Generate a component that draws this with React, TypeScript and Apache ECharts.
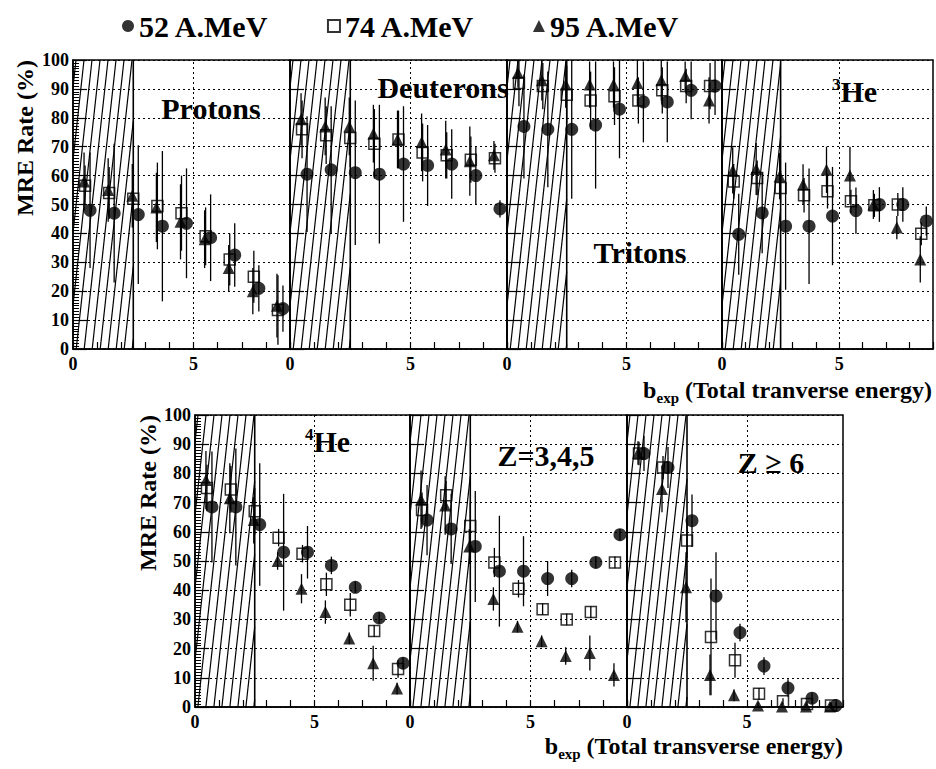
import React, { useEffect, useRef } from 'react';
import * as echarts from 'echarts';

// ---- data ----
const BINS = [0.5, 1.5, 2.5, 3.5, 4.5, 5.5, 6.5, 7.5, 8.5];
const HATCH = [0, 2.5];
const SERIES_NAMES = ['52 A.MeV', '74 A.MeV', '95 A.MeV'];
const PANEL_LABELS = ['Protons', 'Deuterons', 'Tritons', '3He', '4He', 'Z=3,4,5', 'Z ≥ 6'];

const P52 = [48, 47, 46.5, 42.5, 43.5, 38.5, 32.5, 21, 14];
const P52E = [20, 24, 24, 26, 19, 15, 11, 8, 8];
const P74 = [56.5, 54, 52, 49.5, 47, 39, 31, 25, 13.5];
const P74E = [7, 9, 10, 15, 13, 10, 9, 9, 12];
const P95 = [58, 55, 53, 49, 44, 38, 28, 20, 15];
const P95E = [10, 11, 11, 12, 13, 10, 8, 8, 11];

const D52 = [60.5, 62, 61, 60.5, 64, 63.5, 64, 60, 48.5];
const D52E = [20, 22, 25, 24, 20, 14, 12, 10, 3];
const D74 = [76, 74, 73, 71, 72.5, 68, 67, 65.5, 66];
const D74E = [10, 10, 10, 12, 10, 10, 8, 8, 5];
const D95 = [79.5, 77, 77, 74.5, 72.5, 71.5, 69, 65, 67];
const D95E = [9, 10, 10, 10, 10, 10, 10, 12, 5];

const T52 = [77, 76, 76, 77.5, 83, 85.5, 85.5, 89.5, 91];
const T52E = [18, 20, 24, 22, 17, 14, 14, 10, 10];
const T74 = [92, 91, 88, 86, 87.5, 86, 89.5, 91, 91];
const T74E = [8, 8, 10, 10, 10, 8, 8, 6, 8];
const T95 = [95.5, 93, 91.5, 91.5, 91.5, 92, 93, 94.5, 86];
const T95E = [5, 7, 8, 8, 8, 8, 7, 5, 8];

const H3_52 = [39.7, 47.1, 42.5, 42.5, 46, 47.9, 50, 50, 44.3];
const H3_52E = [14, 14, 22, 20, 17, 8, 6, 6, 5];
const H3_74 = [58, 59.2, 55.7, 53.2, 54.6, 51.1, 49.7, 50, 39.9];
const H3_74E = [6, 6, 6, 6, 6, 4, 4, 4, 4];
const H3_95 = [61.8, 62.3, 59.8, 56.9, 62, 60, 50, 42, 31];
const H3_95E = [8, 9, 8, 7, 8, 10, 5, 4, 8];

const H4_52 = [68.5, 68.5, 62.5, 53, 53, 48.5, 41, 30.5, 15];
const H4_52E = [19, 20, 21, 20, 9, 3, 2, 2, 2];
const H4_74 = [75, 74.5, 67, 58, 52.5, 42, 35, 26, 13];
const H4_74E = [8, 8, 8, 3, 3, 4, 4, 2, 3];
const H4_95 = [77.7, 71.5, 64, 50, 40.5, 32.5, 23.5, 15, 6.3];
const H4_95E = [10, 12, 8, 3, 5, 4, 2, 6, 2];

const Z3_52 = [64, 61, 55, 46.5, 46.5, 44, 44, 49.5, 59];
const Z3_52E = [12, 12, 19, 19, 12, 6, 3, 2, 2];
const Z3_74 = [67.5, 72.5, 62, 49.5, 40.5, 33.5, 30, 32.5, 49.5];
const Z3_74E = [6, 5, 8, 5, 3, 2, 2, 2, 2];
const Z3_95 = [71, 69, 55, 37, 27.5, 22.5, 17.5, 18.5, 11];
const Z3_95E = [10, 10, 6, 4, 2, 2, 3, 6, 4];

const Z6_52 = [86.8, 82, 63.8, 38, 25.5, 14, 6.5, 3, 0.5];
const Z6_52E = [6, 7, 9, 15, 3, 3, 3, 2, 1];
const Z6_74 = [86.8, 82, 57, 24, 16, 4.5, 2, 1, 0.5];
const Z6_74E = [4, 4, 6, 20, 6, 2, 1, 1, 1];
const Z6_95 = [87, 74.7, 41, 11, 4, 0.5, 0.2, 0.2, 0.2];
const Z6_95E = [4, 8, 12, 7, 2, 1, 1, 1, 1];

const VALUES = [
  [P52, P74, P95], [D52, D74, D95], [T52, T74, T95], [H3_52, H3_74, H3_95],
  [H4_52, H4_74, H4_95], [Z3_52, Z3_74, Z3_95], [Z6_52, Z6_74, Z6_95],
];
const ERRORS = [
  [P52E, P74E, P95E], [D52E, D74E, D95E], [T52E, T74E, T95E], [H3_52E, H3_74E, H3_95E],
  [H4_52E, H4_74E, H4_95E], [Z3_52E, Z3_74E, Z3_95E], [Z6_52E, Z6_74E, Z6_95E],
];

// ---- layout / style ----
const FONT = '"Liberation Serif", "Times New Roman", serif';
const GRID_BOXES = [
  { left: 73, top: 60, width: 217, height: 289 },
  { left: 290, top: 60, width: 217, height: 289 },
  { left: 507, top: 60, width: 215, height: 289 },
  { left: 722, top: 60, width: 216, height: 289 },
  { left: 195, top: 415, width: 215, height: 292 },
  { left: 410, top: 415, width: 217, height: 292 },
  { left: 627, top: 415, width: 216, height: 292 },
];
const FIRST_IN_ROW = [true, false, false, false, true, false, false];
const PX_OFFSET = [5, 0, -1]; // circle, square, triangle

function hatchRender(params: any, api: any) {
  const p0 = api.coord([api.value(0), 0]);
  const p1 = api.coord([api.value(1), 100]);
  const xl = p0[0], xr = p1[0], yb = p0[1], yt = p1[1];
  const H = yb - yt;
  const shift = H * 0.11;
  const step = 8;
  const children: any[] = [];
  for (let xb = xl - shift + 3; xb < xr; xb += step) {
    const t0 = Math.max(0, (xl - xb) / shift);
    const t1 = Math.min(1, (xr - xb) / shift);
    if (t1 <= t0) continue;
    children.push({
      type: 'line',
      shape: { x1: xb + t0 * shift, y1: yb - t0 * H, x2: xb + t1 * shift, y2: yb - t1 * H },
      style: { stroke: '#000', lineWidth: 1.2 },
    });
  }
  children.push({
    type: 'line',
    shape: { x1: xr, y1: yb, x2: xr, y2: yt },
    style: { stroke: '#000', lineWidth: 1.6 },
  });
  return { type: 'group', children };
}

function errRender(offset: number) {
  return (params: any, api: any) => {
    const x = api.value(0);
    const lo = Math.max(0, api.value(1));
    const hi = Math.min(100, api.value(2));
    const a = api.coord([x, lo]);
    const b = api.coord([x, hi]);
    return {
      type: 'line',
      shape: { x1: a[0] + offset, y1: a[1], x2: b[0] + offset, y2: b[1] },
      style: { stroke: '#000', lineWidth: 1.3 },
    };
  };
}

function buildOption() {
  const grid = GRID_BOXES.map((g) => ({
    ...g, show: true, borderColor: '#000', borderWidth: 1.5, backgroundColor: 'transparent',
  }));
  const xAxis = GRID_BOXES.map((_, i) => ({
    gridIndex: i, type: 'value', min: 0, max: 9, interval: 1,
    axisLine: { show: true, lineStyle: { color: '#000', width: 1.5 } },
    axisTick: { show: true, inside: true, length: 7, lineStyle: { color: '#000', width: 1.2 } },
    splitLine: { show: false },
    axisLabel: {
      show: true, margin: 6, color: '#000', fontFamily: FONT, fontWeight: 'bold', fontSize: 18,
      formatter: (v: number) => (v === 0 || v === 5 ? String(v) : ''),
    },
  }));
  const yAxis = GRID_BOXES.map((_, i) => ({
    gridIndex: i, type: 'value', min: 0, max: 100, interval: 10,
    axisLine: { show: true, lineStyle: { color: '#000', width: 1.5 } },
    axisTick: { show: true, inside: true, length: 14, lineStyle: { color: '#000', width: 1.2 } },
    minorTick: { show: FIRST_IN_ROW[i], splitNumber: 10, length: 6, lineStyle: { color: '#000', width: 1 } },
    splitLine: { show: true, lineStyle: { color: '#000', width: 1, type: [2, 3] } },
    axisLabel: {
      show: FIRST_IN_ROW[i], margin: 4, color: '#000', fontFamily: FONT, fontWeight: 'bold', fontSize: 18,
    },
  }));

  const series: any[] = [];
  GRID_BOXES.forEach((_, i) => {
    series.push({
      type: 'custom', xAxisIndex: i, yAxisIndex: i, silent: true, z: 1,
      data: [HATCH], renderItem: hatchRender,
      markLine: {
        silent: true, symbol: 'none', label: { show: false },
        lineStyle: { type: [2, 3], color: '#000', width: 1 },
        data: [{ xAxis: 5 }],
      },
    });
    for (let k = 0; k < 3; k++) {
      const v = VALUES[i][k];
      const e = ERRORS[i][k];
      series.push({
        type: 'custom', xAxisIndex: i, yAxisIndex: i, silent: true, z: 2,
        encode: { x: 0, y: [1, 2] },
        data: BINS.map((b, j) => [b, v[j] - e[j], v[j] + e[j]]),
        renderItem: errRender(PX_OFFSET[k]),
      });
    }
    // squares, triangles, circles (circles on top)
    [1, 2, 0].forEach((k) => {
      const v = VALUES[i][k];
      const base: any = {
        name: SERIES_NAMES[k], type: 'scatter', xAxisIndex: i, yAxisIndex: i,
        data: BINS.map((b, j) => [b, v[j]]),
        symbolOffset: [PX_OFFSET[k], 0],
      };
      if (k === 0) {
        Object.assign(base, { symbol: 'circle', symbolSize: 13, z: 5, itemStyle: { color: '#000' } });
      } else if (k === 1) {
        Object.assign(base, {
          symbol: 'rect', symbolSize: 11, z: 3,
          itemStyle: { color: 'rgba(255,255,255,0)', borderColor: '#000', borderWidth: 1.5 },
        });
      } else {
        Object.assign(base, { symbol: 'triangle', symbolSize: 12, z: 4, itemStyle: { color: '#000' } });
      }
      series.push(base);
    });
  });

  const titleFont = `bold 30px ${FONT}`;
  const labelText = (text: string, x: number, y: number, align = 'center') => ({
    type: 'text', x, y, silent: true, z: 10,
    style: { text, font: titleFont, fill: '#000', textAlign: align, textVerticalAlign: 'middle' },
  });
  const supText = (sup: string, main: string, x: number, y: number) => ({
    type: 'text', x, y, silent: true, z: 10,
    style: {
      text: `{s|${sup}}{m|${main}}`, textAlign: 'left', textVerticalAlign: 'middle', fill: '#000',
      rich: {
        s: { fontFamily: FONT, fontWeight: 'bold', fontSize: 17, lineHeight: 20, verticalAlign: 'top', fill: '#000' },
        m: { fontFamily: FONT, fontWeight: 'bold', fontSize: 30, lineHeight: 34, verticalAlign: 'top', fill: '#000' },
      },
    },
  });
  const xTitle = (rest: string, x: number, y: number) => ({
    type: 'text', x, y, silent: true, z: 10,
    style: {
      text: `{m|b}{s|exp}{m| ${rest}}`, textAlign: 'right', textVerticalAlign: 'middle', fill: '#000',
      rich: {
        m: { fontFamily: FONT, fontWeight: 'bold', fontSize: 24, lineHeight: 28, verticalAlign: 'top', fill: '#000' },
        s: { fontFamily: FONT, fontWeight: 'bold', fontSize: 15, lineHeight: 18, padding: [12, 0, 0, 0], verticalAlign: 'top', fill: '#000' },
      },
    },
  });
  const yTitle = (x: number, y: number) => ({
    type: 'text', x, y, rotation: Math.PI / 2, silent: true, z: 10,
    style: {
      text: 'MRE Rate (%)', font: `bold 24px ${FONT}`, fill: '#000',
      textAlign: 'right', textVerticalAlign: 'middle',
    },
  });

  const graphic = [
    labelText(PANEL_LABELS[0], 211, 108),
    labelText(PANEL_LABELS[1], 443, 87),
    labelText(PANEL_LABELS[2], 640, 252),
    supText('3', 'He', 832, 93),
    supText('4', 'He', 305, 443),
    labelText(PANEL_LABELS[5], 546, 455),
    labelText(PANEL_LABELS[6], 771, 462),
    xTitle('(Total tranverse energy)', 932, 392),
    xTitle('(Total transverse energy)', 843, 748),
    yTitle(25, 60),
    yTitle(148, 415),
  ];

  return {
    animation: false,
    backgroundColor: '#fff',
    legend: {
      data: SERIES_NAMES, top: 6, left: 117, itemGap: 58, itemWidth: 12, itemHeight: 12,
      selectedMode: false,
      textStyle: { fontFamily: FONT, fontWeight: 'bold', fontSize: 30, color: '#000' },
    },
    grid, xAxis, yAxis, series, graphic,
  };
}

export default function App() {
  const ref = useRef<HTMLDivElement>(null);
  useEffect(() => {
    if (!ref.current) return;
    const chart = echarts.init(ref.current, undefined, { renderer: 'svg' });
    chart.setOption(buildOption() as any);
    return () => chart.dispose();
  }, []);
  return (
    <div
      ref={ref}
      style={{ position: 'fixed', left: 0, top: 0, width: 936, height: 769, background: '#fff' }}
    />
  );
}
